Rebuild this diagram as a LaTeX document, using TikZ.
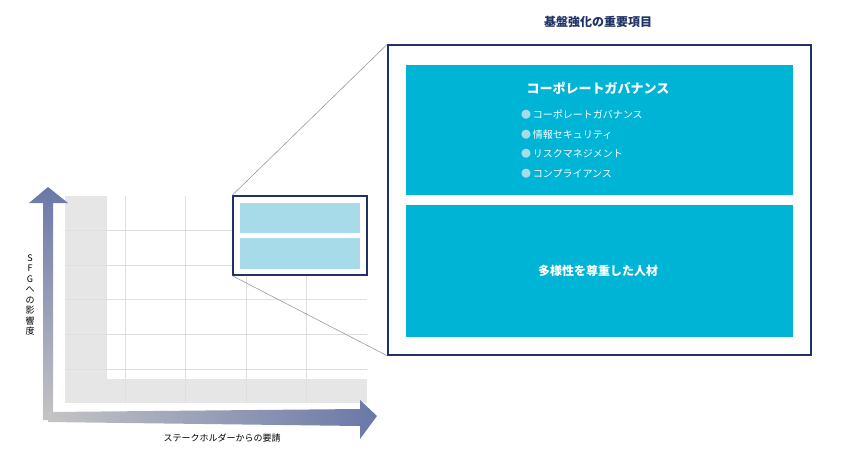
\documentclass[tikz,border=0pt]{standalone}
\usepackage{fontspec}
\setmainfont{Noto Sans CJK JP}
\usetikzlibrary{shapes.geometric}
\definecolor{navy}{HTML}{1F3266}
\definecolor{cyanb}{HTML}{00B4D6}
\definecolor{lblue}{HTML}{A8DBEA}
\definecolor{axblue}{HTML}{6A78A8}
\definecolor{axgray}{HTML}{C4C4C4}
\definecolor{gridg}{HTML}{E6E6E6}
\tikzset{
  cbox/.style={fill=cyanb,draw=none},
  lbox/.style={fill=lblue,draw=none},
  zoomline/.style={draw=gray!80,line width=0.6pt},
  item/.style={text=white,font=\fontsize{10}{12}\selectfont,anchor=west,inner sep=0},
}
\begin{document}
\begin{tikzpicture}[x=1pt,y=-1pt]
\useasboundingbox (0,0) rectangle (850,459);
% chart background
\fill[gridg] (65,196) rectangle (107,403);
\fill[gridg] (65,379) rectangle (367,403);
\foreach \x in {125,185,246,306} \draw[gray!25,line width=0.8pt] (\x,196) -- (\x,403);
\foreach \y in {230,265,299,334,369} \draw[gray!25,line width=0.8pt] (65,\y) -- (367,\y);
% axes
\shade[top color=axblue,bottom color=axgray] (43,420) -- (43,203) -- (29,203) -- (48,187) -- (68,203) -- (53,203) -- (53,420) -- cycle;
\shade[left color=axgray,right color=axblue] (48,422) -- (48,412) -- (360,409) -- (360,400) -- (377,416) -- (360,439) -- (360,426) -- cycle;
\node[font=\fontsize{9}{10.5}\selectfont,align=center,inner sep=0] (ylab) at (30,295) {S\\F\\G\\へ\\の\\影\\響\\度};
\node[font=\fontsize{9}{11}\selectfont,inner sep=0] (xlab) at (222,438) {ステークホルダーからの要請};
% small box
\node[draw=navy,line width=1.5pt,fill=white,minimum width=134pt,minimum height=79pt,inner sep=0] (sb) at (300,235.5) {};
\fill[lblue] (240,203) rectangle (360,233);
\fill[lblue] (240,238) rectangle (360,269);
% big box
\node[draw=navy,line width=1.5pt,minimum width=423pt,minimum height=310pt,inner sep=0] (bb) at (599.5,200) {};
\draw[zoomline] (sb.north west) -- (bb.north west);
\draw[zoomline] (sb.south west) -- (bb.south west);
\node[cbox,minimum width=387pt,minimum height=130pt,inner sep=0] (c1) at (599.5,130) {};
\node[cbox,minimum width=387pt,minimum height=132pt,inner sep=0] (c2) at (599.5,271) {};
\node[text=navy,font=\fontsize{12}{14}\selectfont\bfseries] (title) at (598,22) {基盤強化の重要項目};
\node[text=white,font=\fontsize{13}{15}\selectfont\bfseries] (t1) at (598,88) {コーポレートガバナンス};
\foreach \t [count=\i] in {コーポレートガバナンス,情報セキュリティ,リスクマネジメント,コンプライアンス}
  \node[item] (it\i) at (521,95+\i*19.7) {\textcolor{lblue}{●}\,\t};
\node[text=white,font=\fontsize{12}{14}\selectfont\bfseries] (t2) at (598,271) {多様性を尊重した人材};
\end{tikzpicture}
\end{document}
